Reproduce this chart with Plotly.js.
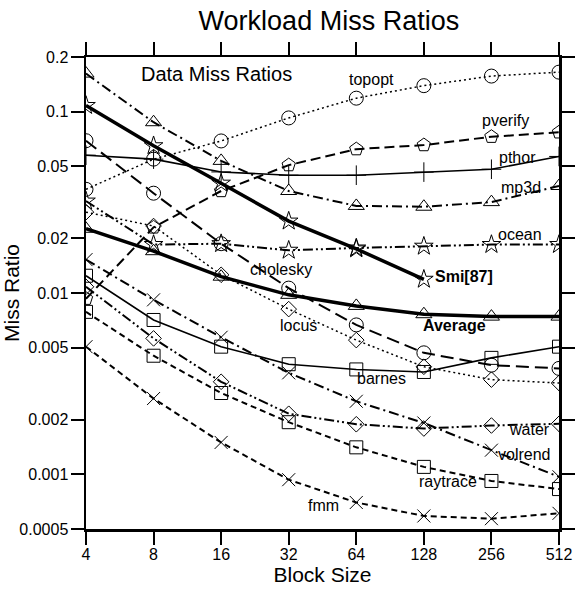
<!DOCTYPE html>
<html>
<head>
<meta charset="utf-8">
<script src="https://cdn.plot.ly/plotly-3.0.1.min.js"></script>
<style>
  html, body { margin: 0; padding: 0; background: #fff; }
  #chart { width: 576px; height: 595px; }
</style>
</head>
<body>
<div id="chart"></div>
<script>
// Block sizes (bytes) on the x axis
const blockSizes = [4, 8, 16, 32, 64, 128, 256, 512];

// Data miss ratios per workload, one value per block size
const topopt   = [0.0373, 0.0547, 0.0689, 0.0923, 0.1186, 0.139, 0.157, 0.165];
const pverify  = [0.0093, 0.0230, 0.0365, 0.0507, 0.0621, 0.0654, 0.0727, 0.0769];
const pthor    = [0.0575, 0.0547, 0.0465, 0.0446, 0.0446, 0.0464, 0.0481, 0.0566];
const mp3d     = [0.162, 0.0874, 0.0535, 0.0365, 0.0302, 0.0299, 0.0317, 0.0389];
const smi87    = [0.108, 0.0648, 0.0403, 0.0249, 0.0175, 0.0119];
const ocean    = [0.0321, 0.0185, 0.0187, 0.0172, 0.0177, 0.0181, 0.0185, 0.0185];
const average  = [0.0226, 0.0170, 0.0123, 0.00977, 0.00849, 0.00764, 0.00741, 0.00741];
const cholesky = [0.0691, 0.0355, 0.0187, 0.01064, 0.00667, 0.00468, 0.0040, 0.00384];
const locus    = [0.0279, 0.0234, 0.0126, 0.00815, 0.0055, 0.00392, 0.00333, 0.00319];
const barnes   = [0.01245, 0.0071, 0.00506, 0.00405, 0.00379, 0.00367, 0.00439, 0.00506];
const volrend  = [0.01528, 0.00917, 0.0057, 0.00363, 0.00253, 0.00192, 0.00136, 0.00097];
const water    = [0.01082, 0.00562, 0.00324, 0.00216, 0.00189, 0.00179, 0.00186, 0.0019];
const raytrace = [0.00787, 0.00451, 0.00281, 0.00194, 0.00141, 0.0011, 0.00092, 0.00083];
const fmm      = [0.00506, 0.00262, 0.0015, 0.000935, 0.0007, 0.00059, 0.00057, 0.00061];

// Y axis ticks
const yTickVals = [0.0005, 0.001, 0.002, 0.005, 0.01, 0.02, 0.05, 0.1, 0.2];
const yTickText = ['0.0005', '0.001', '0.002', '0.005', '0.01', '0.02', '0.05', '0.1', '0.2'];

const FONT = 'Liberation Sans, Arial, Helvetica, sans-serif';

// Line dash patterns
const DOT = '2px,3px';
const LONGDASH = '13px,6px';
const MEDDASH = '10px,5px';
const SHORTDASH = '6px,4px';
const DASHDOT = '10px,4px,2px,4px';
const DASHDOTDOT = '10px,3px,2px,3px,2px,3px';

function series(name, ys, dash, width, symbol, size) {
  return {
    type: 'scatter',
    mode: 'lines+markers',
    name: name,
    x: blockSizes.slice(0, ys.length),
    y: ys,
    line: { color: 'black', width: width, dash: dash },
    marker: { symbol: symbol, size: size, color: 'black', line: { width: 1, color: 'black' } },
    showlegend: false,
    hoverinfo: 'x+y+name'
  };
}

const traces = [
  series('topopt',   topopt,   DOT,        1.5, 'circle-open',      14),
  series('pverify',  pverify,  MEDDASH,    2,   'pentagon-open',    14),
  series('pthor',    pthor,    'solid',    1.6, 'cross-thin-open',  14),
  series('mp3d',     mp3d,     DASHDOT,    2,   'triangle-up-open', 14),
  series('ocean',    ocean,    DASHDOTDOT, 2,   'star-open',        14),
  series('cholesky', cholesky, LONGDASH,   2,   'circle-open',      14),
  series('locus',    locus,    DOT,        1.5, 'diamond-open',     12),
  series('barnes',   barnes,   'solid',    1.6, 'square-open',      13),
  series('volrend',  volrend,  DASHDOT,    2,   'x-thin-open',      13),
  series('water',    water,    DASHDOTDOT, 2,   'diamond-open',     12),
  series('raytrace', raytrace, SHORTDASH,  2,   'square-open',      13),
  series('fmm',      fmm,      SHORTDASH,  2,   'x-thin-open',      13),
  series('Smi[87]',  smi87,    'solid',    3.5, 'star-open',        14),
  series('Average',  average,  'solid',    3.5, 'triangle-up-open', 14)
];

// Series labels placed next to their curves (block size, miss ratio)
function label(text, bx, ratio, opts) {
  return Object.assign({
    text: text,
    xref: 'x', yref: 'y',
    x: Math.log10(bx), y: Math.log10(ratio),
    xanchor: 'center', yanchor: 'middle',
    showarrow: false,
    font: { family: FONT, size: 16, color: 'black' }
  }, opts || {});
}

const annotations = [
  label('Data Miss Ratios', 15.3, 0.1618, { font: { family: FONT, size: 20, color: 'black' } }),
  label('topopt', 75.1, 0.150),
  label('pverify', 296.8, 0.0888),
  label('pthor', 335.6, 0.0561),
  label('mp3d', 346, 0.0383),
  label('ocean', 342.5, 0.0209),
  label('cholesky', 29.5, 0.01344),
  label('<b>Smi[87]</b>', 140.4, 0.0123, { xanchor: 'left' }),
  label('<b>Average</b>', 175.9, 0.00658),
  label('locus', 35.2, 0.00658),
  label('barnes', 83.2, 0.00339),
  label('water', 379.6, 0.00177),
  label('volrend', 356.8, 0.001285),
  label('raytrace', 163.7, 0.000911),
  label('fmm', 45.9, 0.000671)
];

const axisCommon = {
  type: 'log',
  showgrid: false,
  zeroline: false,
  showline: true,
  linecolor: 'black',
  linewidth: 2.5,
  mirror: 'ticks',
  ticks: 'outside',
  ticklen: 13,
  tickwidth: 2,
  tickcolor: 'black',
  tickfont: { family: FONT, size: 16, color: 'black' }
};

const layout = {
  width: 576,
  height: 595,
  margin: { l: 86, r: 17, t: 57, b: 66 },
  paper_bgcolor: 'white',
  plot_bgcolor: 'white',
  font: { family: FONT, color: 'black' },
  title: {
    text: 'Workload Miss Ratios',
    font: { family: FONT, size: 27, color: 'black' },
    x: 0.571, xanchor: 'center',
    y: 0.965, yanchor: 'middle'
  },
  xaxis: Object.assign({}, axisCommon, {
    range: [Math.log10(4), Math.log10(512)],
    tickmode: 'array',
    tickvals: blockSizes,
    ticktext: blockSizes.map(String),
    ticklabelstandoff: -4,
    title: { text: 'Block Size', font: { family: FONT, size: 21, color: 'black' }, standoff: 4 }
  }),
  yaxis: Object.assign({}, axisCommon, {
    range: [Math.log10(0.0005), Math.log10(0.2)],
    tickmode: 'array',
    tickvals: yTickVals,
    ticktext: yTickText,
    ticklabelstandoff: -1,
    title: { text: 'Miss Ratio', font: { family: FONT, size: 21, color: 'black' }, standoff: 1 }
  }),
  annotations: annotations,
  showlegend: false
};

Plotly.newPlot('chart', traces, layout, { displayModeBar: false, staticPlot: true });
</script>
</body>
</html>
